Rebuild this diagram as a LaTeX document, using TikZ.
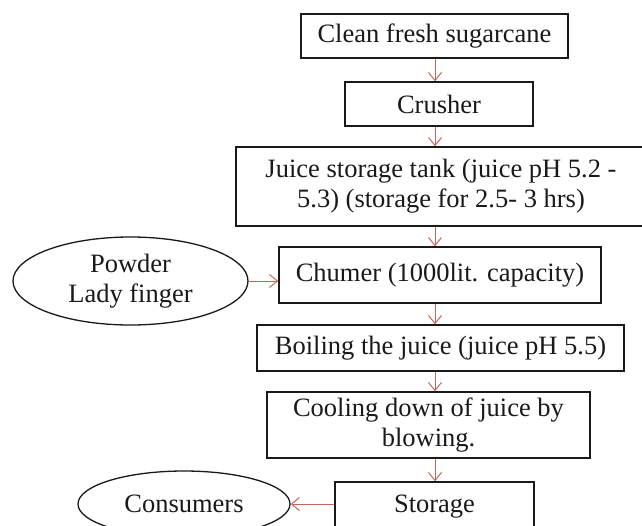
\documentclass[tikz,border=0pt]{standalone}
\usepackage{fontspec}
\setmainfont{Liberation Serif}
\usetikzlibrary{shapes.geometric,arrows.meta}
\definecolor{arr}{RGB}{200,100,90}
\definecolor{ink}{RGB}{25,25,25}
\begin{document}
\begin{tikzpicture}[x=1pt,y=-1pt,
  box/.style={draw=ink,line width=1.5pt,rectangle,inner sep=0pt,align=center,text=ink,font=\fontsize{26.5}{30}\selectfont},
  oval/.style={draw=ink,line width=1.3pt,ellipse,inner sep=0pt,align=center,text=ink,font=\fontsize{26.5}{30}\selectfont},
  flow/.style={draw=arr,line width=1pt,-{Straight Barb[length=8pt,width=13pt]}}]
\useasboundingbox (0,0) rectangle (642,525);
\node[box,minimum width=267pt,minimum height=44pt] (b1) at (434.5,36) {Clean fresh sugarcane};
\node[box,minimum width=188pt,minimum height=44pt] (b2) at (439,104) {Crusher};
\node[box,minimum width=410pt,minimum height=79pt] (b3) at (441,186.5) {Juice storage tank (juice pH 5.2 -\\5.3) (storage for 2.5- 3 hrs)};
\node[box,minimum width=322pt,minimum height=56pt] (b4) at (440,275) {Chumer (1000lit. capacity)};
\node[box,minimum width=367pt,minimum height=46pt] (b5) at (440.5,348) {Boiling the juice (juice pH 5.5)};
\node[box,minimum width=323pt,minimum height=66pt] (b6) at (428.5,425) {Cooling down of juice by\\blowing.};
\node[box,minimum width=199pt,minimum height=50pt] (b7) at (434.5,507) {Storage};
\node[oval,minimum width=235pt,minimum height=88pt] (e1) at (130.5,281) {Powder\\Lady finger};
\node[oval,minimum width=212pt,minimum height=66pt] (e2) at (184,504) {Consumers};
\coordinate (ax) at (435,0);
\draw[flow] (ax |- b1.south) -- (ax |- b2.north);
\draw[flow] (ax |- b2.south) -- (ax |- b3.north);
\draw[flow] (ax |- b3.south) -- (ax |- b4.north);
\draw[flow] (ax |- b4.south) -- (ax |- b5.north);
\draw[flow] (ax |- b5.south) -- (ax |- b6.north);
\draw[flow] (ax |- b6.south) -- (ax |- b7.north);
\draw[flow] (e1) -- (e1 -| b4.west);
\draw[flow] (b7.west |- e2) -- (e2);
\end{tikzpicture}
\end{document}
